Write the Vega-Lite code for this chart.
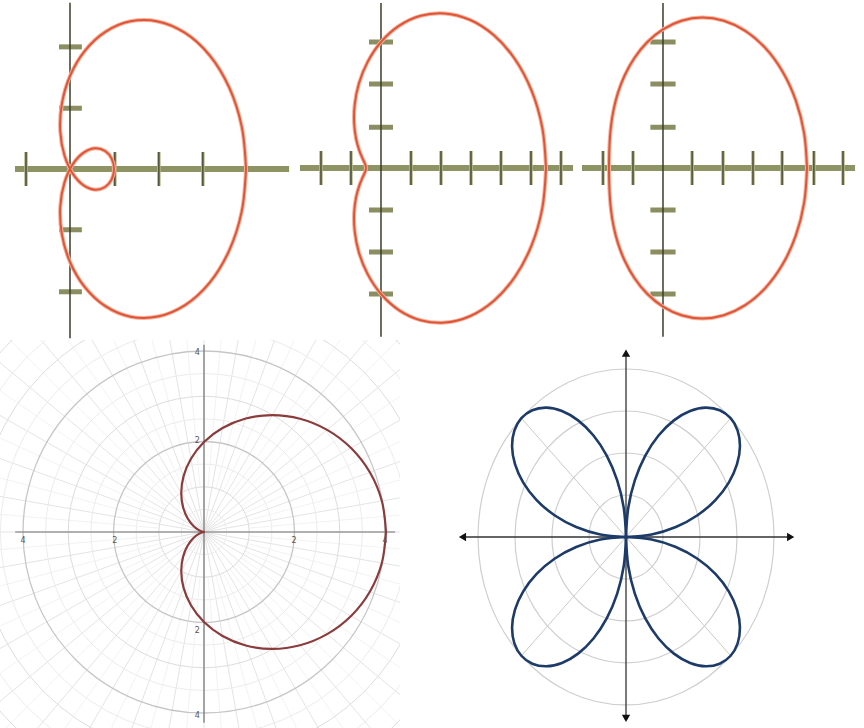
{
"$schema": "https://vega.github.io/schema/vega-lite/v6.json",
"padding": 0,
"autosize": {"type": "pad"},
"background": "white",
"spacing": 0,
"config": {"view": {"stroke": null}, "axis": {"disable": true}},
"datasets": {
"c1": [{"i":0,"x":4,"y":0},{"i":1,"x":3.902,"y":0.688},{"i":2,"x":3.617,"y":1.316},{"i":3,"x":3.174,"y":1.833},{"i":4,"x":2.616,"y":2.195},{"i":5,"x":1.997,"y":2.38},{"i":6,"x":1.375,"y":2.382},{"i":7,"x":0.805,"y":2.213},{"i":8,"x":0.336,"y":1.905},{"i":9,"x":0,"y":1.5},{"i":10,"x":-0.185,"y":1.05},{"i":11,"x":-0.221,"y":0.606},{"i":12,"x":-0.125,"y":0.217},{"i":13,"x":0.069,"y":-0.082},{"i":14,"x":0.318,"y":-0.267},{"i":15,"x":0.576,"y":-0.333},{"i":16,"x":0.798,"y":-0.29},{"i":17,"x":0.947,"y":-0.167},{"i":18,"x":1,"y":0},{"i":19,"x":0.947,"y":0.167},{"i":20,"x":0.798,"y":0.29},{"i":21,"x":0.576,"y":0.333},{"i":22,"x":0.318,"y":0.267},{"i":23,"x":0.069,"y":0.082},{"i":24,"x":-0.125,"y":-0.217},{"i":25,"x":-0.221,"y":-0.606},{"i":26,"x":-0.185,"y":-1.05},{"i":27,"x":0,"y":-1.5},{"i":28,"x":0.336,"y":-1.905},{"i":29,"x":0.805,"y":-2.213},{"i":30,"x":1.375,"y":-2.382},{"i":31,"x":1.997,"y":-2.38},{"i":32,"x":2.616,"y":-2.195},{"i":33,"x":3.174,"y":-1.833},{"i":34,"x":3.617,"y":-1.316},{"i":35,"x":3.902,"y":-0.688},{"i":36,"x":4,"y":0}],
"c2": [{"i":0,"x":5.5,"y":0},{"i":1,"x":5.379,"y":0.948},{"i":2,"x":5.027,"y":1.829},{"i":3,"x":4.473,"y":2.583},{"i":4,"x":3.765,"y":3.159},{"i":5,"x":2.961,"y":3.529},{"i":6,"x":2.125,"y":3.681},{"i":7,"x":1.318,"y":3.623},{"i":8,"x":0.596,"y":3.382},{"i":9,"x":0,"y":3},{"i":10,"x":-0.445,"y":2.527},{"i":11,"x":-0.734,"y":2.016},{"i":12,"x":-0.875,"y":1.516},{"i":13,"x":-0.895,"y":1.067},{"i":14,"x":-0.831,"y":0.697},{"i":15,"x":-0.723,"y":0.418},{"i":16,"x":-0.612,"y":0.223},{"i":17,"x":-0.53,"y":0.093},{"i":18,"x":-0.5,"y":0},{"i":19,"x":-0.53,"y":-0.093},{"i":20,"x":-0.612,"y":-0.223},{"i":21,"x":-0.723,"y":-0.418},{"i":22,"x":-0.831,"y":-0.697},{"i":23,"x":-0.895,"y":-1.067},{"i":24,"x":-0.875,"y":-1.516},{"i":25,"x":-0.734,"y":-2.016},{"i":26,"x":-0.445,"y":-2.527},{"i":27,"x":0,"y":-3},{"i":28,"x":0.596,"y":-3.382},{"i":29,"x":1.318,"y":-3.623},{"i":30,"x":2.125,"y":-3.681},{"i":31,"x":2.961,"y":-3.529},{"i":32,"x":3.765,"y":-3.159},{"i":33,"x":4.473,"y":-2.583},{"i":34,"x":5.027,"y":-1.829},{"i":35,"x":5.379,"y":-0.948},{"i":36,"x":5.5,"y":0}],
"c3": [{"i":0,"x":4.8,"y":0},{"i":1,"x":4.704,"y":0.829},{"i":2,"x":4.426,"y":1.611},{"i":3,"x":3.983,"y":2.3},{"i":4,"x":3.408,"y":2.86},{"i":5,"x":2.741,"y":3.266},{"i":6,"x":2.025,"y":3.507},{"i":7,"x":1.304,"y":3.583},{"i":8,"x":0.618,"y":3.506},{"i":9,"x":0,"y":3.3},{"i":10,"x":-0.528,"y":2.994},{"i":11,"x":-0.953,"y":2.619},{"i":12,"x":-1.275,"y":2.208},{"i":13,"x":-1.502,"y":1.789},{"i":14,"x":-1.648,"y":1.383},{"i":15,"x":-1.733,"y":1.001},{"i":16,"x":-1.776,"y":0.646},{"i":17,"x":-1.795,"y":0.316},{"i":18,"x":-1.8,"y":0},{"i":19,"x":-1.795,"y":-0.316},{"i":20,"x":-1.776,"y":-0.646},{"i":21,"x":-1.733,"y":-1.001},{"i":22,"x":-1.648,"y":-1.383},{"i":23,"x":-1.502,"y":-1.789},{"i":24,"x":-1.275,"y":-2.208},{"i":25,"x":-0.953,"y":-2.619},{"i":26,"x":-0.528,"y":-2.994},{"i":27,"x":0,"y":-3.3},{"i":28,"x":0.618,"y":-3.506},{"i":29,"x":1.304,"y":-3.583},{"i":30,"x":2.025,"y":-3.507},{"i":31,"x":2.741,"y":-3.266},{"i":32,"x":3.408,"y":-2.86},{"i":33,"x":3.983,"y":-2.3},{"i":34,"x":4.426,"y":-1.611},{"i":35,"x":4.704,"y":-0.829},{"i":36,"x":4.8,"y":0}],
"card": [{"i":0,"x":4,"y":0},{"i":1,"x":3.909,"y":0.689},{"i":2,"x":3.645,"y":1.327},{"i":3,"x":3.232,"y":1.866},{"i":4,"x":2.706,"y":2.27},{"i":5,"x":2.112,"y":2.517},{"i":6,"x":1.5,"y":2.598},{"i":7,"x":0.918,"y":2.522},{"i":8,"x":0.407,"y":2.311},{"i":9,"x":0,"y":2},{"i":10,"x":-0.287,"y":1.628},{"i":11,"x":-0.45,"y":1.237},{"i":12,"x":-0.5,"y":0.866},{"i":13,"x":-0.459,"y":0.547},{"i":14,"x":-0.358,"y":0.301},{"i":15,"x":-0.232,"y":0.134},{"i":16,"x":-0.114,"y":0.041},{"i":17,"x":-0.03,"y":0.005},{"i":18,"x":0,"y":0},{"i":19,"x":-0.03,"y":-0.005},{"i":20,"x":-0.114,"y":-0.041},{"i":21,"x":-0.232,"y":-0.134},{"i":22,"x":-0.358,"y":-0.301},{"i":23,"x":-0.459,"y":-0.547},{"i":24,"x":-0.5,"y":-0.866},{"i":25,"x":-0.45,"y":-1.237},{"i":26,"x":-0.287,"y":-1.628},{"i":27,"x":0,"y":-2},{"i":28,"x":0.407,"y":-2.311},{"i":29,"x":0.918,"y":-2.522},{"i":30,"x":1.5,"y":-2.598},{"i":31,"x":2.112,"y":-2.517},{"i":32,"x":2.706,"y":-2.27},{"i":33,"x":3.232,"y":-1.866},{"i":34,"x":3.645,"y":-1.327},{"i":35,"x":3.909,"y":-0.689},{"i":36,"x":4,"y":0}],
"spokes": [
{"x":0.996,"y":0.087,"x2":6.973,"y2":0.61},{"x":0.966,"y":0.259,"x2":6.761,"y2":1.812},{"x":0.906,"y":0.423,"x2":6.344,"y2":2.958},{"x":0.819,"y":0.574,"x2":5.734,"y2":4.015},{"x":0.707,"y":0.707,"x2":4.95,"y2":4.95},{"x":0.574,"y":0.819,"x2":4.015,"y2":5.734},{"x":0.423,"y":0.906,"x2":2.958,"y2":6.344},{"x":0.259,"y":0.966,"x2":1.812,"y2":6.761},{"x":0.087,"y":0.996,"x2":0.61,"y2":6.973},
{"x":-0.996,"y":0.087,"x2":-6.973,"y2":0.61},{"x":-0.966,"y":0.259,"x2":-6.761,"y2":1.812},{"x":-0.906,"y":0.423,"x2":-6.344,"y2":2.958},{"x":-0.819,"y":0.574,"x2":-5.734,"y2":4.015},{"x":-0.707,"y":0.707,"x2":-4.95,"y2":4.95},{"x":-0.574,"y":0.819,"x2":-4.015,"y2":5.734},{"x":-0.423,"y":0.906,"x2":-2.958,"y2":6.344},{"x":-0.259,"y":0.966,"x2":-1.812,"y2":6.761},{"x":-0.087,"y":0.996,"x2":-0.61,"y2":6.973},
{"x":-0.996,"y":-0.087,"x2":-6.973,"y2":-0.61},{"x":-0.966,"y":-0.259,"x2":-6.761,"y2":-1.812},{"x":-0.906,"y":-0.423,"x2":-6.344,"y2":-2.958},{"x":-0.819,"y":-0.574,"x2":-5.734,"y2":-4.015},{"x":-0.707,"y":-0.707,"x2":-4.95,"y2":-4.95},{"x":-0.574,"y":-0.819,"x2":-4.015,"y2":-5.734},{"x":-0.423,"y":-0.906,"x2":-2.958,"y2":-6.344},{"x":-0.259,"y":-0.966,"x2":-1.812,"y2":-6.761},{"x":-0.087,"y":-0.996,"x2":-0.61,"y2":-6.973},
{"x":0.996,"y":-0.087,"x2":6.973,"y2":-0.61},{"x":0.966,"y":-0.259,"x2":6.761,"y2":-1.812},{"x":0.906,"y":-0.423,"x2":6.344,"y2":-2.958},{"x":0.819,"y":-0.574,"x2":5.734,"y2":-4.015},{"x":0.707,"y":-0.707,"x2":4.95,"y2":-4.95},{"x":0.574,"y":-0.819,"x2":4.015,"y2":-5.734},{"x":0.423,"y":-0.906,"x2":2.958,"y2":-6.344},{"x":0.259,"y":-0.966,"x2":1.812,"y2":-6.761},{"x":0.087,"y":-0.996,"x2":0.61,"y2":-6.973}],
"rose": [
{"p":1,"i":0,"x":0,"y":0},{"p":1,"i":1,"x":0.692,"y":0.061},{"p":1,"i":2,"x":1.347,"y":0.238},{"p":1,"i":3,"x":1.932,"y":0.518},{"p":1,"i":4,"x":2.416,"y":0.879},{"p":1,"i":5,"x":2.777,"y":1.295},{"p":1,"i":6,"x":3.0,"y":1.732},{"p":1,"i":7,"x":3.079,"y":2.156},{"p":1,"i":8,"x":3.017,"y":2.532},{"p":1,"i":9,"x":2.828,"y":2.828},{"p":1,"i":10,"x":2.532,"y":3.017},{"p":1,"i":11,"x":2.156,"y":3.079},{"p":1,"i":12,"x":1.732,"y":3.0},{"p":1,"i":13,"x":1.295,"y":2.777},{"p":1,"i":14,"x":0.879,"y":2.416},{"p":1,"i":15,"x":0.518,"y":1.932},{"p":1,"i":16,"x":0.238,"y":1.347},{"p":1,"i":17,"x":0.061,"y":0.692},{"p":1,"i":18,"x":0,"y":0},
{"p":2,"i":0,"x":0,"y":0},{"p":2,"i":1,"x":-0.692,"y":0.061},{"p":2,"i":2,"x":-1.347,"y":0.238},{"p":2,"i":3,"x":-1.932,"y":0.518},{"p":2,"i":4,"x":-2.416,"y":0.879},{"p":2,"i":5,"x":-2.777,"y":1.295},{"p":2,"i":6,"x":-3.0,"y":1.732},{"p":2,"i":7,"x":-3.079,"y":2.156},{"p":2,"i":8,"x":-3.017,"y":2.532},{"p":2,"i":9,"x":-2.828,"y":2.828},{"p":2,"i":10,"x":-2.532,"y":3.017},{"p":2,"i":11,"x":-2.156,"y":3.079},{"p":2,"i":12,"x":-1.732,"y":3.0},{"p":2,"i":13,"x":-1.295,"y":2.777},{"p":2,"i":14,"x":-0.879,"y":2.416},{"p":2,"i":15,"x":-0.518,"y":1.932},{"p":2,"i":16,"x":-0.238,"y":1.347},{"p":2,"i":17,"x":-0.061,"y":0.692},{"p":2,"i":18,"x":0,"y":0},
{"p":3,"i":0,"x":0,"y":0},{"p":3,"i":1,"x":-0.692,"y":-0.061},{"p":3,"i":2,"x":-1.347,"y":-0.238},{"p":3,"i":3,"x":-1.932,"y":-0.518},{"p":3,"i":4,"x":-2.416,"y":-0.879},{"p":3,"i":5,"x":-2.777,"y":-1.295},{"p":3,"i":6,"x":-3.0,"y":-1.732},{"p":3,"i":7,"x":-3.079,"y":-2.156},{"p":3,"i":8,"x":-3.017,"y":-2.532},{"p":3,"i":9,"x":-2.828,"y":-2.828},{"p":3,"i":10,"x":-2.532,"y":-3.017},{"p":3,"i":11,"x":-2.156,"y":-3.079},{"p":3,"i":12,"x":-1.732,"y":-3.0},{"p":3,"i":13,"x":-1.295,"y":-2.777},{"p":3,"i":14,"x":-0.879,"y":-2.416},{"p":3,"i":15,"x":-0.518,"y":-1.932},{"p":3,"i":16,"x":-0.238,"y":-1.347},{"p":3,"i":17,"x":-0.061,"y":-0.692},{"p":3,"i":18,"x":0,"y":0},
{"p":4,"i":0,"x":0,"y":0},{"p":4,"i":1,"x":0.692,"y":-0.061},{"p":4,"i":2,"x":1.347,"y":-0.238},{"p":4,"i":3,"x":1.932,"y":-0.518},{"p":4,"i":4,"x":2.416,"y":-0.879},{"p":4,"i":5,"x":2.777,"y":-1.295},{"p":4,"i":6,"x":3.0,"y":-1.732},{"p":4,"i":7,"x":3.079,"y":-2.156},{"p":4,"i":8,"x":3.017,"y":-2.532},{"p":4,"i":9,"x":2.828,"y":-2.828},{"p":4,"i":10,"x":2.532,"y":-3.017},{"p":4,"i":11,"x":2.156,"y":-3.079},{"p":4,"i":12,"x":1.732,"y":-3.0},{"p":4,"i":13,"x":1.295,"y":-2.777},{"p":4,"i":14,"x":0.879,"y":-2.416},{"p":4,"i":15,"x":0.518,"y":-1.932},{"p":4,"i":16,"x":0.238,"y":-1.347},{"p":4,"i":17,"x":0.061,"y":-0.692},{"p":4,"i":18,"x":0,"y":0}]
},
"vconcat": [
{"spacing": 0, "hconcat": [
{"width": 290, "height": 340,
 "encoding": {"x": {"field": "x", "type": "quantitative", "scale": {"domain": [-1.591, 5.0], "nice": false, "zero": false}, "axis": null},
              "y": {"field": "y", "type": "quantitative", "scale": {"domain": [-2.758, 2.726], "nice": false, "zero": false}, "axis": null}},
 "layer": [
  {"data": {"values": [{"x": -1.25, "y": 0, "x2": 4.98, "y2": 0}]}, "mark": {"type": "rule", "color": "#8e9363", "strokeWidth": 6, "clip": true}, "encoding": {"x2": {"field": "x2"}, "y2": {"field": "y2"}}},
  {"data": {"values": [{"x": -1, "y": -0.274, "x2": -1, "y2": 0.274}, {"x": 1.02, "y": -0.274, "x2": 1.02, "y2": 0.274}, {"x": 2.02, "y": -0.274, "x2": 2.02, "y2": 0.274}, {"x": 3.02, "y": -0.274, "x2": 3.02, "y2": 0.274}]}, "mark": {"type": "rule", "color": "#b5b78c", "strokeWidth": 3.5, "clip": true}, "encoding": {"x2": {"field": "x2"}, "y2": {"field": "y2"}}},
  {"data": {"values": [{"x": -1, "y": -0.274, "x2": -1, "y2": 0.274}, {"x": 1.02, "y": -0.274, "x2": 1.02, "y2": 0.274}, {"x": 2.02, "y": -0.274, "x2": 2.02, "y2": 0.274}, {"x": 3.02, "y": -0.274, "x2": 3.02, "y2": 0.274}]}, "mark": {"type": "rule", "color": "#2e321f", "strokeWidth": 1.2, "clip": true}, "encoding": {"x2": {"field": "x2"}, "y2": {"field": "y2"}}},
  {"data": {"values": [{"x": -0.25, "y": 1.97, "x2": 0.27, "y2": 1.97}, {"x": -0.25, "y": 0.98, "x2": 0.27, "y2": 0.98}, {"x": -0.25, "y": -0.98, "x2": 0.27, "y2": -0.98}, {"x": -0.25, "y": -1.98, "x2": 0.27, "y2": -1.98}]}, "mark": {"type": "rule", "color": "#8a8e60", "strokeWidth": 5, "clip": true}, "encoding": {"x2": {"field": "x2"}, "y2": {"field": "y2"}}},
  {"data": {"values": [{"x": 0, "y": -2.73, "x2": 0, "y2": 2.68}]}, "mark": {"type": "rule", "color": "#3a3e28", "strokeWidth": 1.5, "clip": true}, "encoding": {"x2": {"field": "x2"}, "y2": {"field": "y2"}}},
  {"data": {"name": "c1"}, "mark": {"type": "line", "color": "#f4b49c", "strokeWidth": 4, "interpolate": "catmull-rom", "clip": true}, "encoding": {"order": {"field": "i", "type": "quantitative"}}},
  {"data": {"name": "c1"}, "mark": {"type": "line", "color": "#e0553a", "strokeWidth": 2, "interpolate": "catmull-rom", "clip": true}, "encoding": {"order": {"field": "i", "type": "quantitative"}}}
 ]},
{"width": 285, "height": 340,
 "encoding": {"x": {"field": "x", "type": "quantitative", "scale": {"domain": [-3.033, 6.467], "nice": false, "zero": false}, "axis": null},
              "y": {"field": "y", "type": "quantitative", "scale": {"domain": [-4.095, 4.0], "nice": false, "zero": false}, "axis": null}},
 "layer": [
  {"data": {"values": [{"x": -2.7, "y": 0, "x2": 6.4, "y2": 0}]}, "mark": {"type": "rule", "color": "#8e9363", "strokeWidth": 6, "clip": true}, "encoding": {"x2": {"field": "x2"}, "y2": {"field": "y2"}}},
  {"data": {"values": [{"x": -2, "y": -0.405, "x2": -2, "y2": 0.405}, {"x": -1, "y": -0.405, "x2": -1, "y2": 0.405}, {"x": 1, "y": -0.405, "x2": 1, "y2": 0.405}, {"x": 2, "y": -0.405, "x2": 2, "y2": 0.405}, {"x": 3, "y": -0.405, "x2": 3, "y2": 0.405}, {"x": 4, "y": -0.405, "x2": 4, "y2": 0.405}, {"x": 5, "y": -0.405, "x2": 5, "y2": 0.405}, {"x": 6, "y": -0.405, "x2": 6, "y2": 0.405}]}, "mark": {"type": "rule", "color": "#b5b78c", "strokeWidth": 3.5, "clip": true}, "encoding": {"x2": {"field": "x2"}, "y2": {"field": "y2"}}},
  {"data": {"values": [{"x": -2, "y": -0.405, "x2": -2, "y2": 0.405}, {"x": -1, "y": -0.405, "x2": -1, "y2": 0.405}, {"x": 1, "y": -0.405, "x2": 1, "y2": 0.405}, {"x": 2, "y": -0.405, "x2": 2, "y2": 0.405}, {"x": 3, "y": -0.405, "x2": 3, "y2": 0.405}, {"x": 4, "y": -0.405, "x2": 4, "y2": 0.405}, {"x": 5, "y": -0.405, "x2": 5, "y2": 0.405}, {"x": 6, "y": -0.405, "x2": 6, "y2": 0.405}]}, "mark": {"type": "rule", "color": "#2e321f", "strokeWidth": 1.2, "clip": true}, "encoding": {"x2": {"field": "x2"}, "y2": {"field": "y2"}}},
  {"data": {"values": [{"x": -0.4, "y": 3, "x2": 0.4, "y2": 3}, {"x": -0.4, "y": 2, "x2": 0.4, "y2": 2}, {"x": -0.4, "y": 0.97, "x2": 0.4, "y2": 0.97}, {"x": -0.4, "y": -1, "x2": 0.4, "y2": -1}, {"x": -0.4, "y": -2, "x2": 0.4, "y2": -2}, {"x": -0.4, "y": -3, "x2": 0.4, "y2": -3}]}, "mark": {"type": "rule", "color": "#8a8e60", "strokeWidth": 5, "clip": true}, "encoding": {"x2": {"field": "x2"}, "y2": {"field": "y2"}}},
  {"data": {"values": [{"x": 0, "y": -4.02, "x2": 0, "y2": 3.93}]}, "mark": {"type": "rule", "color": "#3a3e28", "strokeWidth": 1.5, "clip": true}, "encoding": {"x2": {"field": "x2"}, "y2": {"field": "y2"}}},
  {"data": {"name": "c2"}, "mark": {"type": "line", "color": "#f4b49c", "strokeWidth": 4, "interpolate": "catmull-rom", "clip": true}, "encoding": {"order": {"field": "i", "type": "quantitative"}}},
  {"data": {"name": "c2"}, "mark": {"type": "line", "color": "#e0553a", "strokeWidth": 2, "interpolate": "catmull-rom", "clip": true}, "encoding": {"order": {"field": "i", "type": "quantitative"}}}
 ]},
{"width": 289, "height": 340,
 "encoding": {"x": {"field": "x", "type": "quantitative", "scale": {"domain": [-2.933, 6.7], "nice": false, "zero": false}, "axis": null},
              "y": {"field": "y", "type": "quantitative", "scale": {"domain": [-4.095, 4.0], "nice": false, "zero": false}, "axis": null}},
 "layer": [
  {"data": {"values": [{"x": -2.7, "y": 0, "x2": 6.4, "y2": 0}]}, "mark": {"type": "rule", "color": "#8e9363", "strokeWidth": 6, "clip": true}, "encoding": {"x2": {"field": "x2"}, "y2": {"field": "y2"}}},
  {"data": {"values": [{"x": -2, "y": -0.405, "x2": -2, "y2": 0.405}, {"x": -1, "y": -0.405, "x2": -1, "y2": 0.405}, {"x": 0.97, "y": -0.405, "x2": 0.97, "y2": 0.405}, {"x": 2, "y": -0.405, "x2": 2, "y2": 0.405}, {"x": 3, "y": -0.405, "x2": 3, "y2": 0.405}, {"x": 3.97, "y": -0.405, "x2": 3.97, "y2": 0.405}, {"x": 5.03, "y": -0.405, "x2": 5.03, "y2": 0.405}, {"x": 6, "y": -0.405, "x2": 6, "y2": 0.405}]}, "mark": {"type": "rule", "color": "#b5b78c", "strokeWidth": 3.5, "clip": true}, "encoding": {"x2": {"field": "x2"}, "y2": {"field": "y2"}}},
  {"data": {"values": [{"x": -2, "y": -0.405, "x2": -2, "y2": 0.405}, {"x": -1, "y": -0.405, "x2": -1, "y2": 0.405}, {"x": 0.97, "y": -0.405, "x2": 0.97, "y2": 0.405}, {"x": 2, "y": -0.405, "x2": 2, "y2": 0.405}, {"x": 3, "y": -0.405, "x2": 3, "y2": 0.405}, {"x": 3.97, "y": -0.405, "x2": 3.97, "y2": 0.405}, {"x": 5.03, "y": -0.405, "x2": 5.03, "y2": 0.405}, {"x": 6, "y": -0.405, "x2": 6, "y2": 0.405}]}, "mark": {"type": "rule", "color": "#2e321f", "strokeWidth": 1.2, "clip": true}, "encoding": {"x2": {"field": "x2"}, "y2": {"field": "y2"}}},
  {"data": {"values": [{"x": -0.42, "y": 3, "x2": 0.42, "y2": 3}, {"x": -0.42, "y": 2, "x2": 0.42, "y2": 2}, {"x": -0.42, "y": 0.97, "x2": 0.42, "y2": 0.97}, {"x": -0.42, "y": -1, "x2": 0.42, "y2": -1}, {"x": -0.42, "y": -2, "x2": 0.42, "y2": -2}, {"x": -0.42, "y": -3, "x2": 0.42, "y2": -3}]}, "mark": {"type": "rule", "color": "#8a8e60", "strokeWidth": 5, "clip": true}, "encoding": {"x2": {"field": "x2"}, "y2": {"field": "y2"}}},
  {"data": {"values": [{"x": 0, "y": -4.02, "x2": 0, "y2": 3.93}]}, "mark": {"type": "rule", "color": "#3a3e28", "strokeWidth": 1.5, "clip": true}, "encoding": {"x2": {"field": "x2"}, "y2": {"field": "y2"}}},
  {"data": {"name": "c3"}, "mark": {"type": "line", "color": "#f4b49c", "strokeWidth": 4, "interpolate": "catmull-rom", "clip": true}, "encoding": {"order": {"field": "i", "type": "quantitative"}}},
  {"data": {"name": "c3"}, "mark": {"type": "line", "color": "#e0553a", "strokeWidth": 2, "interpolate": "catmull-rom", "clip": true}, "encoding": {"order": {"field": "i", "type": "quantitative"}}}
 ]}
]},
{"spacing": 0, "resolve": {"scale": {"size": "independent", "shape": "independent"}}, "hconcat": [
{"width": 400, "height": 388,
 "encoding": {"x": {"field": "x", "type": "quantitative", "scale": {"domain": [-4.484, 4.308], "nice": false, "zero": false}, "axis": null},
              "y": {"field": "y", "type": "quantitative", "scale": {"domain": [-4.356, 4.267], "nice": false, "zero": false}, "axis": null}},
 "layer": [
  {"data": {"name": "spokes"}, "mark": {"type": "rule", "color": "#efefef", "strokeWidth": 0.8, "clip": true}, "encoding": {"x2": {"field": "x2"}, "y2": {"field": "y2"}}},
  {"data": {"values": [{"x": -7, "y": 0, "x2": 7, "y2": 0}, {"x": -6.894, "y": -1.216, "x2": 6.894, "y2": 1.216}, {"x": -6.578, "y": -2.394, "x2": 6.578, "y2": 2.394}, {"x": -6.062, "y": -3.5, "x2": 6.062, "y2": 3.5}, {"x": -5.362, "y": -4.5, "x2": 5.362, "y2": 4.5}, {"x": -4.5, "y": -5.362, "x2": 4.5, "y2": 5.362}, {"x": -3.5, "y": -6.062, "x2": 3.5, "y2": 6.062}, {"x": -2.394, "y": -6.578, "x2": 2.394, "y2": 6.578}, {"x": -1.216, "y": -6.894, "x2": 1.216, "y2": 6.894}, {"x": 0, "y": -7, "x2": 0, "y2": 7}, {"x": 1.216, "y": -6.894, "x2": -1.216, "y2": 6.894}, {"x": 2.394, "y": -6.578, "x2": -2.394, "y2": 6.578}, {"x": 3.5, "y": -6.062, "x2": -3.5, "y2": 6.062}, {"x": 4.5, "y": -5.362, "x2": -4.5, "y2": 5.362}, {"x": 5.362, "y": -4.5, "x2": -5.362, "y2": 4.5}, {"x": 6.062, "y": -3.5, "x2": -6.062, "y2": 3.5}, {"x": 6.578, "y": -2.394, "x2": -6.578, "y2": 2.394}, {"x": 6.894, "y": -1.216, "x2": -6.894, "y2": 1.216}]}, "mark": {"type": "rule", "color": "#e4e4e4", "strokeWidth": 1, "clip": true}, "encoding": {"x2": {"field": "x2"}, "y2": {"field": "y2"}}},
  {"data": {"values": [{"x": 0, "y": 0, "r": 0.5}, {"x": 0, "y": 0, "r": 1.5}, {"x": 0, "y": 0, "r": 2.5}, {"x": 0, "y": 0, "r": 3.5}, {"x": 0, "y": 0, "r": 4.5}, {"x": 0, "y": 0, "r": 5.5}]}, "mark": {"type": "point", "shape": "circle", "filled": false, "opacity": 1, "color": "#ececec", "strokeWidth": 1, "clip": true}, "encoding": {"size": {"field": "r", "type": "quantitative", "scale": {"type": "pow", "exponent": 2, "domain": [0, 1], "range": [0, 8190]}, "legend": null}}},
  {"data": {"values": [{"x": 0, "y": 0, "r": 1}, {"x": 0, "y": 0, "r": 3}, {"x": 0, "y": 0, "r": 5}, {"x": 0, "y": 0, "r": 6}]}, "mark": {"type": "point", "shape": "circle", "filled": false, "opacity": 1, "color": "#dddddd", "strokeWidth": 1, "clip": true}, "encoding": {"size": {"field": "r", "type": "quantitative", "scale": {"type": "pow", "exponent": 2, "domain": [0, 1], "range": [0, 8190]}, "legend": null}}},
  {"data": {"values": [{"x": 0, "y": 0, "r": 2}, {"x": 0, "y": 0, "r": 4}]}, "mark": {"type": "point", "shape": "circle", "filled": false, "opacity": 1, "color": "#c6c6c6", "strokeWidth": 1.3, "clip": true}, "encoding": {"size": {"field": "r", "type": "quantitative", "scale": {"type": "pow", "exponent": 2, "domain": [0, 1], "range": [0, 8190]}, "legend": null}}},
  {"data": {"values": [{"x": -4.15, "y": 0, "x2": 4.2, "y2": 0}, {"x": 0, "y": -4.24, "x2": 0, "y2": 4.16}]}, "mark": {"type": "rule", "color": "#707070", "strokeWidth": 1.2, "clip": true}, "encoding": {"x2": {"field": "x2"}, "y2": {"field": "y2"}}},
  {"data": {"values": [{"x": -3.98, "y": -0.2, "t": "4"}, {"x": -1.96, "y": -0.2, "t": "2"}, {"x": 1.98, "y": -0.2, "t": "2"}, {"x": 3.98, "y": -0.2, "t": "4"}, {"x": -0.15, "y": 3.98, "t": "4"}, {"x": -0.15, "y": 2.02, "t": "2"}, {"x": -0.15, "y": -2.2, "t": "2"}, {"x": -0.15, "y": -4.1, "t": "4"}]}, "mark": {"type": "text", "fontSize": 8, "color": "#555555", "font": "DejaVu Sans", "baseline": "middle", "align": "center"}, "encoding": {"text": {"field": "t"}}},
  {"data": {"name": "card"}, "mark": {"type": "line", "color": "#8b3b3b", "strokeWidth": 2.2, "interpolate": "catmull-rom", "clip": true}, "encoding": {"order": {"field": "i", "type": "quantitative"}}}
 ]},
{"width": 464, "height": 388,
 "encoding": {"x": {"field": "x", "type": "quantitative", "scale": {"domain": [-6.108, 6.432], "nice": false, "zero": false}, "axis": null},
              "y": {"field": "y", "type": "quantitative", "scale": {"domain": [-4.548, 4.69], "nice": false, "zero": false}, "axis": null}},
 "layer": [
  {"data": {"values": [{"x": -2.828, "y": -2.828, "x2": 2.828, "y2": 2.828}, {"x": -2.828, "y": 2.828, "x2": 2.828, "y2": -2.828}]}, "mark": {"type": "rule", "color": "#cfcbc4", "strokeWidth": 1, "clip": true}, "encoding": {"x2": {"field": "x2"}, "y2": {"field": "y2"}}},
  {"data": {"values": [{"x": 0, "y": 0, "r": 1}, {"x": 0, "y": 0, "r": 2}, {"x": 0, "y": 0, "r": 3}, {"x": 0, "y": 0, "r": 4}]}, "mark": {"type": "point", "shape": "M-1,0A1,1.135,0,1,1,1,0A1,1.135,0,1,1,-1,0Z", "filled": false, "opacity": 1, "color": "#cfcfcf", "strokeWidth": 1.2, "clip": true}, "encoding": {"size": {"field": "r", "type": "quantitative", "scale": {"type": "pow", "exponent": 2, "domain": [0, 1], "range": [0, 5476]}, "legend": null}}},
  {"data": {"values": [{"x": -4.45, "y": 0, "x2": 4.48, "y2": 0}, {"x": 0, "y": -4.35, "x2": 0, "y2": 4.42}]}, "mark": {"type": "rule", "color": "#333333", "strokeWidth": 1.3, "clip": true}, "encoding": {"x2": {"field": "x2"}, "y2": {"field": "y2"}}},
  {"data": {"values": [{"x": -4.42, "y": 0, "d": "l"}, {"x": 4.45, "y": 0, "d": "r"}, {"x": 0, "y": 4.38, "d": "u"}, {"x": 0, "y": -4.32, "d": "d"}]}, "mark": {"type": "point", "filled": true, "opacity": 1, "color": "#111111", "size": 70, "clip": true}, "encoding": {"shape": {"field": "d", "type": "nominal", "scale": {"domain": ["l", "r", "u", "d"], "range": ["triangle-left", "triangle-right", "triangle-up", "triangle-down"]}, "legend": null}}},
  {"data": {"name": "rose"}, "mark": {"type": "line", "color": "#1d3b68", "strokeWidth": 2.6, "interpolate": "catmull-rom", "clip": true}, "encoding": {"detail": {"field": "p", "type": "nominal"}, "order": {"field": "i", "type": "quantitative"}}}
 ]}
]}
]
}
